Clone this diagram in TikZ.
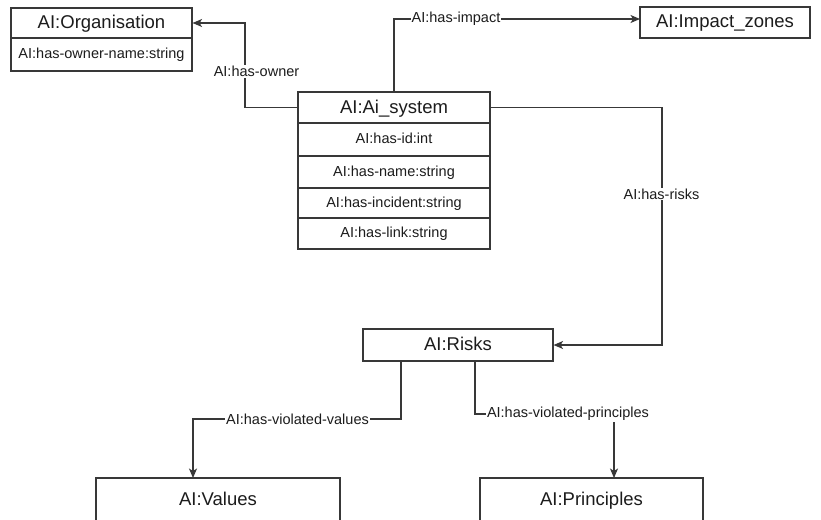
\documentclass[tikz,border=0pt]{standalone}
\usepackage{fontspec}
\setmainfont{Liberation Sans}
\usetikzlibrary{arrows.meta}
\definecolor{linec}{HTML}{383838}
\definecolor{txt}{HTML}{1C1C1C}
\tikzset{
  cls/.style={draw=linec, fill=white, inner sep=0pt, line width=1.1pt,
    text=txt, font=\fontsize{18.5}{20}\selectfont,
    text height=14pt, text depth=3pt},
  attr/.style={draw=linec, fill=white, inner sep=0pt, line width=1.1pt,
    text=txt, font=\fontsize{14.5}{16}\selectfont,
    text height=10.8pt, text depth=2.6pt},
  rel/.style={draw=linec, line width=1.1pt},
  arr/.style={rel, -{Stealth[length=9.5pt,width=8pt,inset=2.5pt]}},
  lbl/.style={fill=white, inner sep=1pt, text=txt,
    font=\fontsize{14.5}{16}\selectfont},
}
\begin{document}
\begin{tikzpicture}[x=1pt, y=-1pt]
\useasboundingbox (0,0) rectangle (821,519);
\clip (0,0) rectangle (821,519);
\fill[white] (0,0) rectangle (821,519);

% organisation class
\node[cls, minimum width=181, minimum height=30] (org) at (101.5,23) {AI:Organisation};
\node[attr, minimum width=181, minimum height=33] (orgName) at (101.5,54.5) {AI:has-owner-name:string};

% impact zones class
\node[cls, minimum width=170, minimum height=31] (imp) at (725,22.5) {AI:Impact\_zones};

% ai system class with its attributes
\node[cls, minimum width=192, minimum height=31] (sys) at (394,107.5) {AI:Ai\_system};
\node[attr, minimum width=192, minimum height=33] (sysId) at (394,139.5) {AI:has-id:int};
\node[attr, minimum width=192, minimum height=32] (sysName) at (394,172) {AI:has-name:string};
\node[attr, minimum width=192, minimum height=30] (sysInc) at (394,203) {AI:has-incident:string};
\node[attr, minimum width=192, minimum height=31] (sysLink) at (394,233.5) {AI:has-link:string};

% risks, values, principles
\node[cls, minimum width=190, minimum height=32] (risks) at (458,345) {AI:Risks};
\node[cls, minimum width=244, minimum height=44] (values) at (218,500) {AI:Values};
\node[cls, minimum width=223, minimum height=44] (princ) at (591.5,500) {AI:Principles};

% bend points of the orthogonal connectors
\coordinate (ownBend) at (245,23);
\coordinate (impIn) at (640,19);
\coordinate (riskBend) at (662,107.5);
\coordinate (valOut) at (401,361);
\coordinate (valMid) at (297.5,419);
\coordinate (valIn) at (193,478);
\coordinate (prOut) at (475,361);
\coordinate (prMid) at (568,414);
\coordinate (prIn) at (614,478);

% connectors
\draw[arr] (sys.west) -| (ownBend) -- (org.east);
\draw[arr] (sys.north) |- (impIn);
\draw[arr] (sys.east) -- (riskBend) |- (risks.east);
\draw[arr] (valOut) |- (valMid) -| (valIn);
\draw[arr] (prOut) |- (prMid) -| (prIn);

% connector labels
\node[lbl] (lOwner) at (256.5,71.5) {AI:has-owner};
\node[lbl] (lImpact) at (456,19) {AI:has-impact};
\node[lbl] (lRisks) at (661.5,194) {AI:has-risks};
\node[lbl] (lValues) at (297.5,419) {AI:has-violated-values};
\node[lbl] (lPrinc) at (568,414) {AI:has-violated-principles};
\end{tikzpicture}
\end{document}
